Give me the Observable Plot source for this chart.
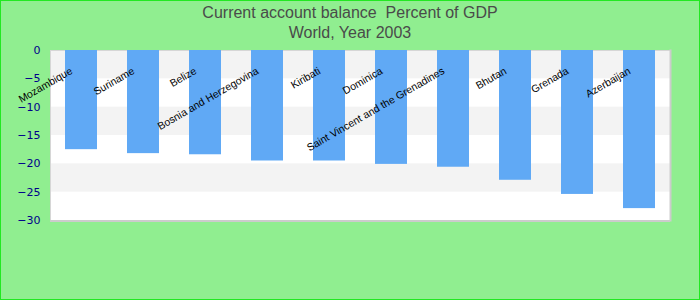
<!DOCTYPE html>
<html>
<head>
<meta charset="utf-8">
<script src="https://cdn.jsdelivr.net/npm/d3@7"></script>
<script src="https://cdn.jsdelivr.net/npm/@observablehq/plot@0.6"></script>
<style>
  html, body { margin: 0; padding: 0; }
  #wrap { position: relative; width: 698px; height: 298px; border: 1px solid #22e822; background: #90ee90; overflow: hidden; }
  #title { position: absolute; left: 0; top: 2px; width: 698px; text-align: center; font-family: "Liberation Sans", Arial, sans-serif; font-size: 16px; line-height: 20px; color: #4a4a4a; white-space: pre; }
  #chart { position: absolute; left: 0; top: 0; }
</style>
</head>
<body>
<div id="wrap">
  <div id="chart"></div>
  <div id="title">Current account balance  Percent of GDP
World, Year 2003</div>
</div>
<script>
const countries = ["Mozambique", "Suriname", "Belize", "Bosnia and Herzegovina", "Kiribati", "Dominica", "Saint Vincent and the Grenadines", "Bhutan", "Grenada", "Azerbaijan"];
const values = [-17.5, -18.2, -18.4, -19.5, -19.5, -20.1, -20.6, -22.9, -25.4, -27.9];
const yTicks = [0, -5, -10, -15, -20, -25, -30];
const grayBandStarts = [0, -10, -20];

const data = countries.map((c, i) => ({country: c, value: values[i]}));

const chart = Plot.plot({
  width: 698,
  height: 298,
  marginLeft: 49,
  marginRight: 29,
  marginTop: 49,
  marginBottom: 79,
  style: {background: "transparent", overflow: "visible"},
  x: {domain: countries, paddingInner: 0.48, paddingOuter: 0.24, axis: null},
  y: {domain: [-30, 0], ticks: yTicks},
  marks: [
    Plot.frame({fill: "white", stroke: "none"}),
    Plot.rect(grayBandStarts, {y1: d => d, y2: d => d - 5, fill: "#f3f3f3"}),
    Plot.frame({stroke: "#d6d6d6", strokeWidth: 1}),
    Plot.axisY({ticks: yTicks, tickSize: 0, tickPadding: 10, fontSize: 11, fontFamily: "DejaVu Sans", fill: "#00008b", label: null}),
    Plot.barY(data, {x: "country", y: "value", fill: "#60a9f5"}),
    Plot.text(data, {x: "country", text: "country", frameAnchor: "top", rotate: -30, textAnchor: "end", dx: -12, dy: 16, fontSize: 10.5, fontFamily: "Liberation Sans", fill: "black"}),
    Plot.ruleY([-30], {stroke: "#cccccc", strokeWidth: 2, dy: 0.5}),
    Plot.frame({anchor: "right", stroke: "#cccccc", strokeWidth: 2})
  ]
});
document.getElementById("chart").appendChild(chart);
</script>
</body>
</html>
